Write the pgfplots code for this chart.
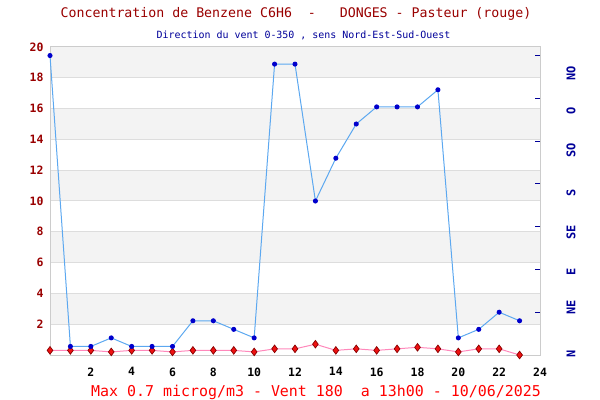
\documentclass[border=0pt]{standalone}
\usepackage{fontspec}
\setmainfont{DejaVu Sans Mono}
\usepackage{pgfplots}
\usepackage{pgfplotstable}
\pgfplotsset{compat=1.18}

\definecolor{titlered}{HTML}{990000}
\definecolor{navy}{HTML}{000099}
\definecolor{band}{HTML}{F3F3F3}
\definecolor{gridc}{HTML}{DDDDDD}
\definecolor{framec}{HTML}{CCCCCC}
\definecolor{windline}{HTML}{5CA8F0}
\definecolor{windmark}{HTML}{0000CC}
\definecolor{benzline}{HTML}{FF88BB}
\definecolor{benzfill}{HTML}{EE1111}
\definecolor{benzdraw}{HTML}{880000}

% benzene, microg/m3, per hour
\pgfplotstableread{
h c
0 0.3
1 0.3
2 0.3
3 0.2
4 0.3
5 0.3
6 0.2
7 0.3
8 0.3
9 0.3
10 0.2
11 0.4
12 0.4
13 0.7
14 0.3
15 0.4
16 0.3
17 0.4
18 0.5
19 0.4
20 0.2
21 0.4
22 0.4
23 0.0
}\benzene

% wind direction, degrees
\pgfplotstableread{
h d
0 350
1 10
2 10
3 20
4 10
5 10
6 10
7 40
8 40
9 30
10 20
11 340
12 340
13 180
14 230
15 270
16 290
17 290
18 290
19 310
20 20
21 30
22 50
23 40
}\vent

\begin{document}
\begin{tikzpicture}
\useasboundingbox (-50bp,-45bp) rectangle (550bp,355bp);

\begin{axis}[
  at={(0,0)}, anchor=south west,
  scale only axis, width=490bp, height=308bp,
  xmin=0, xmax=24, ymin=0, ymax=20,
  xtick={2,4,...,24}, ytick={2,4,...,20},
  major tick length=0pt,
  axis line style={framec, line width=1bp},
  clip=false,
  /pgf/number format/assume math mode=true,
  yticklabel style={font=\bfseries\fontsize{11.5}{12}\selectfont, text=titlered, xshift=-3bp},
  xticklabel style={font=\bfseries\fontsize{11.5}{12}\selectfont, yshift=-9bp},
]
% alternating bands
\fill[band] (axis cs:0,18) rectangle (axis cs:24,20);
\fill[band] (axis cs:0,14) rectangle (axis cs:24,16);
\fill[band] (axis cs:0,10) rectangle (axis cs:24,12);
\fill[band] (axis cs:0,6) rectangle (axis cs:24,8);
\fill[band] (axis cs:0,2) rectangle (axis cs:24,4);
% grid
\draw[gridc, line width=1bp] (axis cs:0,2) -- (axis cs:24,2);
\draw[gridc, line width=1bp] (axis cs:0,4) -- (axis cs:24,4);
\draw[gridc, line width=1bp] (axis cs:0,6) -- (axis cs:24,6);
\draw[gridc, line width=1bp] (axis cs:0,8) -- (axis cs:24,8);
\draw[gridc, line width=1bp] (axis cs:0,10) -- (axis cs:24,10);
\draw[gridc, line width=1bp] (axis cs:0,12) -- (axis cs:24,12);
\draw[gridc, line width=1bp] (axis cs:0,14) -- (axis cs:24,14);
\draw[gridc, line width=1bp] (axis cs:0,16) -- (axis cs:24,16);
\draw[gridc, line width=1bp] (axis cs:0,18) -- (axis cs:24,18);
\draw[framec, line width=1bp] (axis cs:0,0) rectangle (axis cs:24,20);

\addplot[benzline, line width=1bp, mark=diamond*, mark size=3.8bp,
  mark options={fill=benzfill, draw=benzdraw, line width=0.7bp}]
  table[x=h, y=c] {\benzene};
\end{axis}

\begin{axis}[
  at={(0,0)}, anchor=south west,
  scale only axis, width=490bp, height=308bp,
  xmin=0, xmax=24, ymin=0, ymax=360,
  hide x axis,
  axis y line*=right,
  axis line style={draw=none},
  clip=false,
  ytick={1,56,97,143,189,239,285,329},
  yticklabels={N,NE,E,SE,S,SO,O,NO},
  major tick length=0pt,
  yticklabel style={xshift=31bp, rotate=90, anchor=center, text=navy,
    font=\bfseries\fontsize{12}{13}\selectfont},
  extra y ticks={50,100,150,200,250,300,350},
  extra y tick labels={},
  extra y tick style={major tick length=5bp, tick align=inside,
    tick style={navy, line width=1bp}},
]
\addplot[windline, line width=1bp, mark=*, mark size=2bp,
  mark options={fill=windmark, draw=windmark}]
  table[x=h, y=d] {\vent};
\end{axis}

\node[font=\fontsize{13.3}{15}\selectfont, text=titlered] at (246bp,341bp)
  {Concentration de Benzene C6H6\ \ -\ \ \ DONGES - Pasteur (rouge)};
\node[font=\fontsize{10}{12}\selectfont, text=navy] at (253.5bp,320bp)
  {Direction du vent 0-350 , sens Nord-Est-Sud-Ouest};
\node[font=\fontsize{15}{17}\selectfont, text=red] at (266bp,-37bp)
  {Max 0.7 microg/m3 - Vent 180\ \ a 13h00 - 10/06/2025};
\end{tikzpicture}
\end{document}
